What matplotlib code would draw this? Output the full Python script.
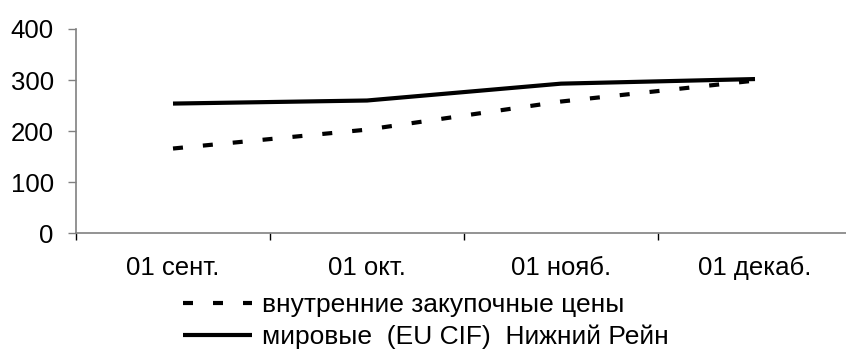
# coding=utf-8
"""
Цены: внутренние закупочные и мировые (EU CIF Нижний Рейн)
"""

import matplotlib
matplotlib.use('Agg')
import matplotlib.pyplot as plt
from matplotlib.ticker import FixedLocator

plt.rcParams['font.family'] = ['Liberation Sans', 'DejaVu Sans']

# Datos
dates = ['01 сент.', '01 окт.', '01 нояб.', '01 декаб.']
domestic = [166, 203, 258, 299]
world = [254, 260, 293, 302]
y_ticks = [0, 100, 200, 300, 400]
label_domestic = 'внутренние закупочные цены'
label_world = 'мировые  (EU CIF)  Нижний Рейн'

TICK_FONT = 18.5
LEG_FONT = 19
AXCOL = '#808080'

fig = plt.figure(figsize=(8.46, 3.51), dpi=100)
ax = fig.add_axes([76 / 846, (351 - 233.3) / 351, 776 / 846, 204.3 / 351])

pos = list(range(len(dates)))
l1, = ax.plot(pos, domestic, color='black', lw=3, dashes=(2.4, 4.8),
              solid_capstyle='butt', dash_capstyle='butt')
l2, = ax.plot(pos, world, color='black', lw=3, solid_capstyle='butt')

ax.set_xlim(-0.5, len(dates) - 0.5)
ax.set_ylim(0, 400)
ax.set_yticks(y_ticks)
ax.set_xticks(pos)
ax.set_xticklabels(dates)
ax.xaxis.set_minor_locator(FixedLocator([p - 0.5 for p in pos] + [len(dates) - 0.5]))
ax.tick_params(axis='x', which='major', length=0, pad=16, labelsize=TICK_FONT)
ax.tick_params(axis='x', which='minor', length=5, width=1, color='black', direction='out')
ax.tick_params(axis='y', length=6, width=1, color=AXCOL, pad=10, labelsize=TICK_FONT)

for s in ['top', 'right']:
    ax.spines[s].set_visible(False)
for s in ['left', 'bottom']:
    ax.spines[s].set_color(AXCOL)
    ax.spines[s].set_linewidth(1.2)
    ax.spines[s].set_clip_on(False)

fig.legend([l1, l2], [label_domestic, label_world], loc='upper left',
           bbox_to_anchor=(183 / 846, 1 - 293 / 351), frameon=False,
           fontsize=LEG_FONT, handlelength=2.6, handletextpad=0.4, labelspacing=0.28,
           borderpad=0, borderaxespad=0)

fig.savefig('out.png', dpi=100)
